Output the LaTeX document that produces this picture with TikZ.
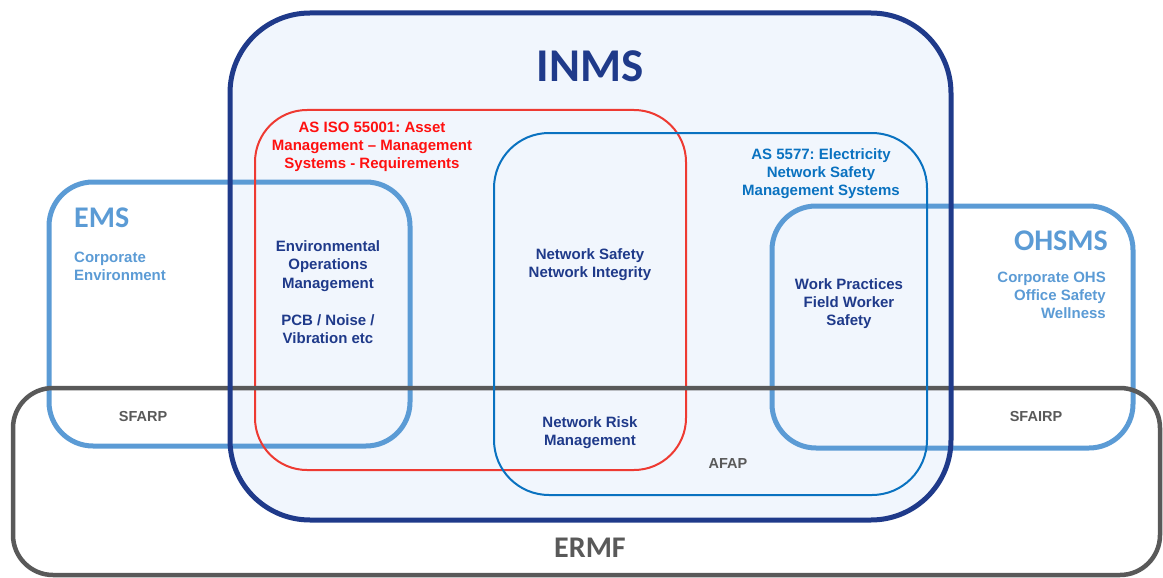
\documentclass[tikz,border=0pt]{standalone}
\usepackage{fontspec}
\setmainfont{Liberation Sans}
\newfontfamily\titlefont{Carlito}
\frenchspacing
\definecolor{navy}{HTML}{1F3A8A}
\definecolor{skyline}{HTML}{5B9BD5}
\definecolor{stdblue}{HTML}{0A72C0}
\definecolor{redline}{HTML}{EE3A32}
\definecolor{redtext}{HTML}{FF1010}
\definecolor{slate}{HTML}{595959}
\definecolor{inmsfill}{HTML}{F1F6FD}
\tikzset{
  framebox/.style={line join=round},
  body/.style={inner sep=0pt, align=center, font=\bfseries\fontsize{15}{18}\selectfont},
  heading/.style={inner sep=0pt, font=\titlefont\bfseries\fontsize{#1}{#1}\selectfont},
  tag/.style={inner sep=0pt, text=slate, font=\bfseries\fontsize{14.5}{16}\selectfont}
}
\begin{document}
\begin{tikzpicture}[x=1pt,y=-1pt]
\useasboundingbox (0,0) rectangle (1163,578);

% corner coordinates of the management system frames
\coordinate (inmsA) at (230,13);   \coordinate (inmsB) at (951,520);
\coordinate (isoA) at (255,110);   \coordinate (isoB) at (686,470);
\coordinate (nsA) at (494,133);    \coordinate (nsB) at (927,495);
\coordinate (emsA) at (49,182);    \coordinate (emsB) at (410,446);
\coordinate (ohsA) at (772,206);   \coordinate (ohsB) at (1133,448);
\coordinate (ermfA) at (13,388);   \coordinate (ermfB) at (1160,575);

% INMS background
\fill[inmsfill, rounded corners=80pt] (inmsA) rectangle (inmsB);

% EMS and OHSMS
\draw[framebox, skyline, line width=5pt, rounded corners=44pt] (emsA) rectangle (emsB);
\draw[framebox, skyline, line width=5pt, rounded corners=44pt] (ohsA) rectangle (ohsB);

% asset management standard
\draw[framebox, redline, line width=2pt, rounded corners=52pt] (isoA) rectangle (isoB);

% ERMF
\draw[framebox, slate, line width=4.5pt, rounded corners=40pt] (ermfA) rectangle (ermfB);

% network safety standard
\draw[framebox, stdblue, line width=2pt, rounded corners=55pt] (nsA) rectangle (nsB);

% INMS border
\draw[framebox, navy, line width=5pt, rounded corners=80pt] (inmsA) rectangle (inmsB);

% titles
\node[heading=47, text=navy] (inms) at (590,66) {INMS};
\node[heading=30, text=slate] (ermf) at (590,548) {ERMF};
\node[heading=30, text=skyline, anchor=west] (ems) at (74,218) {EMS};
\node[heading=30, text=skyline, anchor=east] (ohsms) at (1108,241) {OHSMS};

% descriptive text
\node[body, text=skyline, anchor=north west, align=left] (corpenv) at (74,252)
  {Corporate\\Environment};
\node[body, text=skyline, anchor=north east, align=right] (corpohs) at (1106,272)
  {Corporate OHS\\Office Safety\\Wellness};
\node[body, text=redtext, anchor=north] (iso) at (372,122)
  {AS ISO 55001: Asset\\Management -- Management\\Systems - Requirements};
\node[body, text=stdblue, anchor=north] (as5577) at (821,148)
  {AS 5577: Electricity\\Network Safety\\Management Systems};
\node[body, text=navy, anchor=north, font=\bfseries\fontsize{15}{18.5}\selectfont] (envops) at (328,240)
  {Environmental\\Operations\\Management\\[18.5pt]PCB / Noise /\\Vibration etc};
\node[body, text=navy, anchor=north] (netsafe) at (590,248)
  {Network Safety\\Network Integrity};
\node[body, text=navy, anchor=north] (netrisk) at (590,416)
  {Network Risk\\Management};
\node[body, text=navy, anchor=north] (work) at (849,278)
  {Work Practices\\Field Worker\\Safety};

% risk reduction tags
\node[tag] (sfarp) at (143,417) {SFARP};
\node[tag] (sfairp) at (1036,417) {SFAIRP};
\node[tag] (afap) at (728,464) {AFAP};
\end{tikzpicture}
\end{document}
